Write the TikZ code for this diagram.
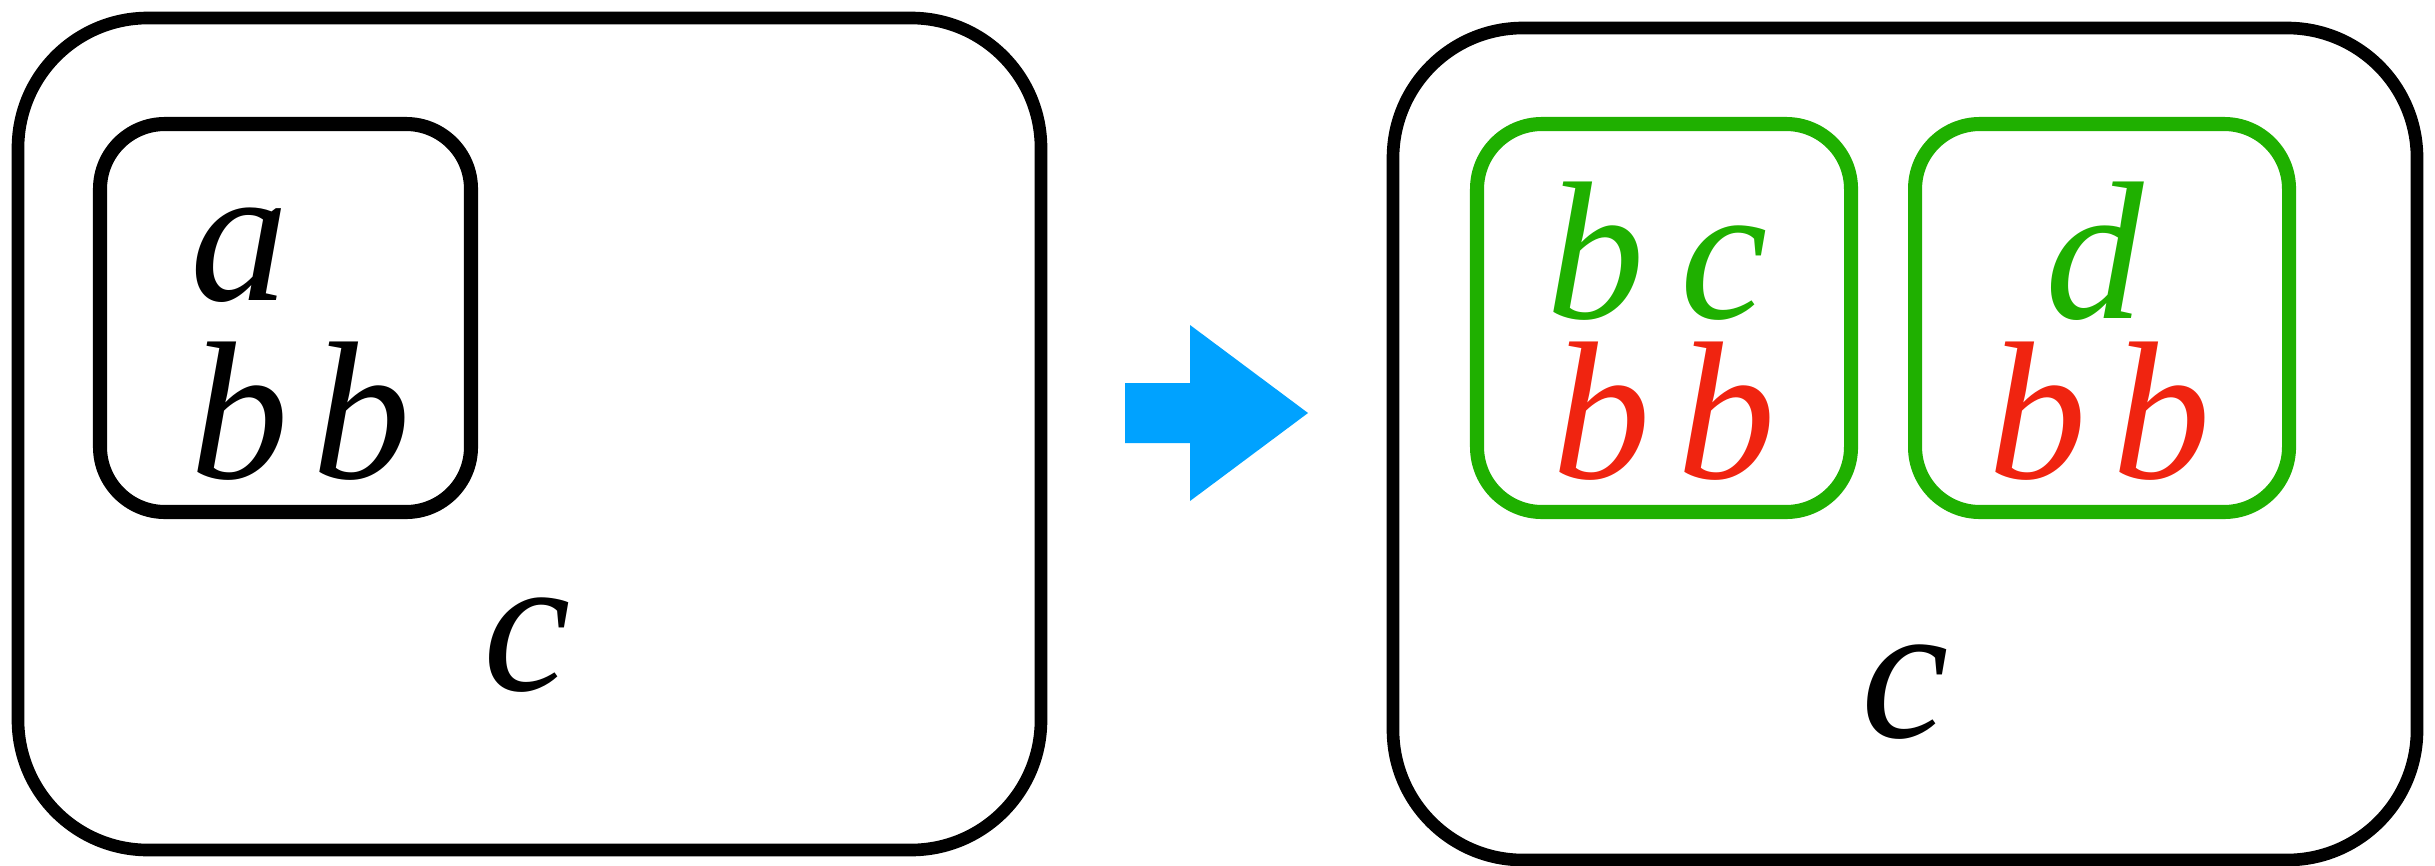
\documentclass[tikz,border=0pt]{standalone}
\usepackage{fontspec}
\setmainfont{Liberation Serif}
\usetikzlibrary{positioning}
\definecolor{green}{RGB}{31,176,0}
\definecolor{red}{RGB}{240,36,16}
\definecolor{blue}{RGB}{0,162,255}

\begin{document}
\begin{tikzpicture}[x=0.1mm,y=-0.1mm,
  outerbox/.style={draw,line width=3.6pt,rounded corners=13mm},
  innerbox/.style={draw,line width=4pt,rounded corners=6.5mm},
  letter/.style={anchor=base,inner sep=0pt,font=\fontsize{56}{56}\selectfont\itshape}]
\useasboundingbox (0,0) rectangle (2435,865);
% before
\draw[outerbox] (18,18) rectangle (1041,850);
\draw[innerbox] (100,124) rectangle (471,512);
\node[letter] (a) at (240,300) {a};
\foreach \x [count=\i] in {240,362} \node[letter] (b\i) at (\x,478) {b};
\node[letter] (c) at (527,690) {c};
% arrow
\fill[blue] (1125,383) -- (1190,383) -- (1190,325) -- (1308,413)
  -- (1190,501) -- (1190,443) -- (1125,443) -- cycle;
% after
\draw[outerbox] (1393,28) rectangle (2417,860);
\draw[innerbox,green] (1477,124) rectangle (1851,512);
\draw[innerbox,green] (1915,124) rectangle (2289,512);
\node[letter,green] (gb) at (1596,318) {b};
\node[letter,green] (gc) at (1724,318) {c};
\node[letter,green] (gd) at (2095,318) {d};
\foreach \x [count=\i] in {1602,1727,2038,2162} \node[letter,red] (rb\i) at (\x,478) {b};
\node[letter] (c') at (1905,737) {c};
\end{tikzpicture}
\end{document}
